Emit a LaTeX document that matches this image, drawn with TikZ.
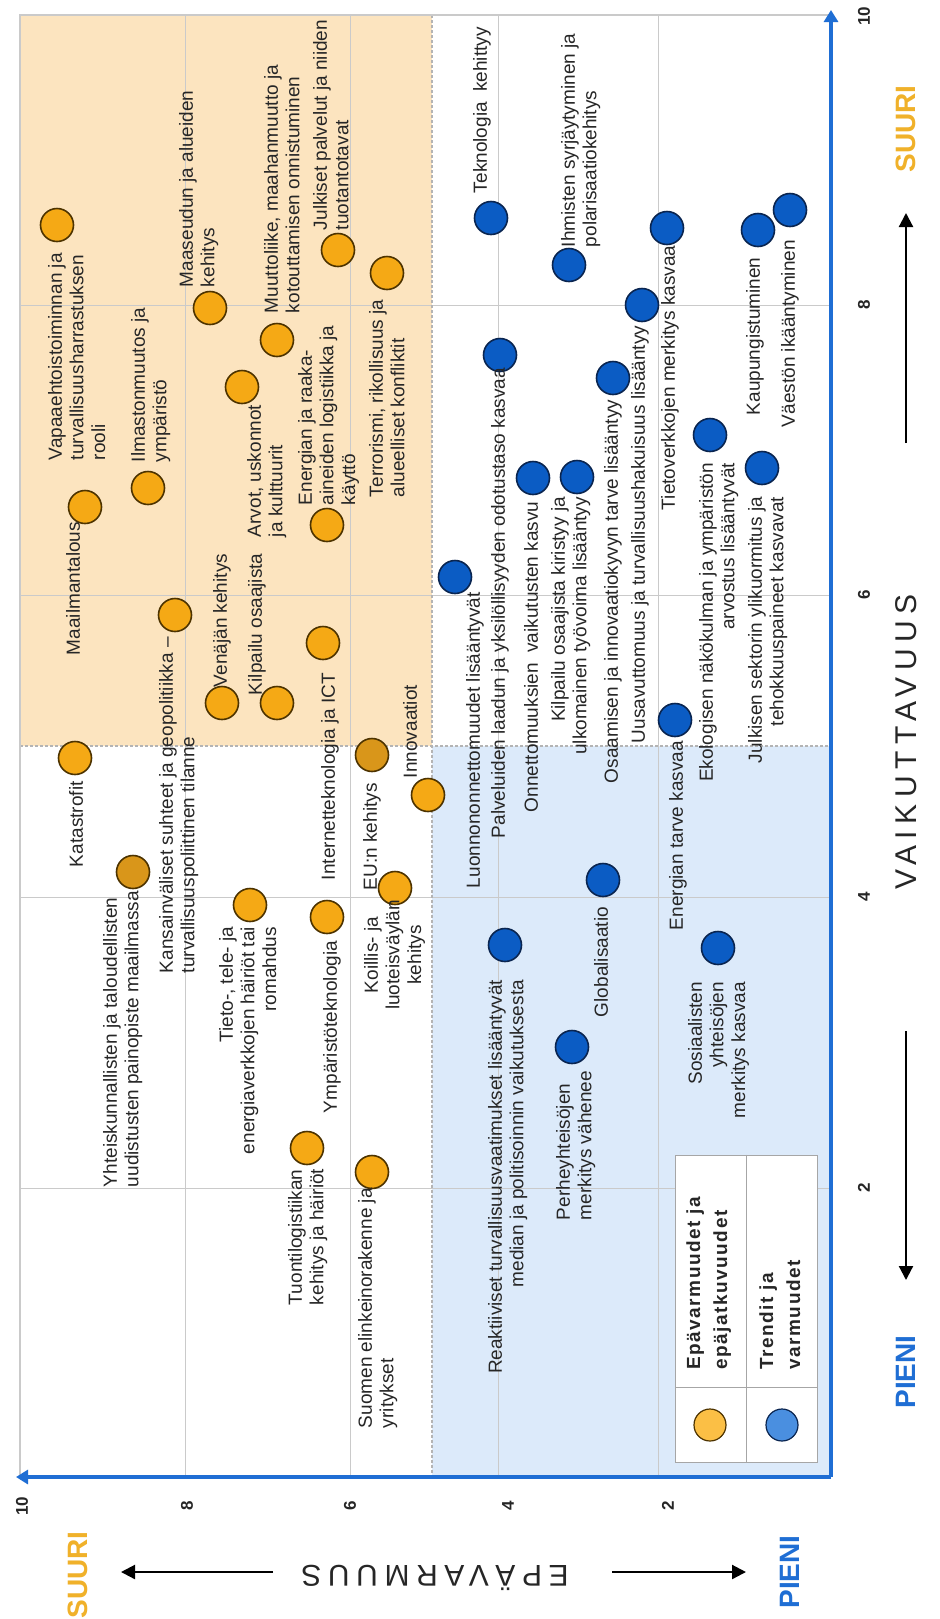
\documentclass[tikz,border=0pt]{standalone}
\usepackage{fontspec}
\setmainfont{Liberation Sans}
\usetikzlibrary{arrows.meta}
\definecolor{orfill}{HTML}{F5A915}
\definecolor{ordark}{HTML}{D9961A}
\definecolor{orline}{HTML}{4D3300}
\definecolor{blfill}{HTML}{0B5CC4}
\definecolor{blline}{HTML}{0A2550}
\definecolor{orzone}{HTML}{FCE4BF}
\definecolor{blzone}{HTML}{DCEAFA}
\definecolor{axblue}{HTML}{1F6ED4}
\definecolor{gridc}{HTML}{CACACA}
\definecolor{dashc}{HTML}{B4B4B4}
\definecolor{suuric}{HTML}{F0B12A}
\definecolor{txt}{HTML}{262626}
\definecolor{legor}{HTML}{FBBF45}
\definecolor{legbl}{HTML}{4A8FE0}
\begin{document}
\begin{tikzpicture}[x=0.5pt,y=-0.5pt,
  oc/.style={circle,draw=orline,fill=orfill,line width=0.8pt,minimum size=16.5pt,inner sep=0pt},
  ocd/.style={oc,fill=ordark},
  bc/.style={circle,draw=blline,fill=blfill,line width=0.8pt,minimum size=16.5pt,inner sep=0pt},
  lbl/.style={rotate=90,inner sep=0pt,outer sep=0pt,text=txt,font=\fontsize{9.5}{10.85}\selectfont},
  lL/.style={lbl,anchor=north west,align=left},
  lR/.style={lbl,anchor=north east,align=right},
  lC/.style={lbl,anchor=north,align=center},
  num/.style={rotate=90,inner sep=0pt,font=\fontsize{8.5}{10}\selectfont\bfseries,text=txt},
  axtitle/.style={inner sep=0pt,text=txt,font=\addfontfeature{LetterSpace=22}\fontsize{15}{18}\selectfont},
  bigword/.style={rotate=90,inner sep=0pt,font=\fontsize{14}{16}\selectfont\bfseries},
  blackarrow/.style={line width=1.1pt,-{Triangle[length=7pt,width=7pt]}},
  axisline/.style={axblue,line width=1.6pt,-{Triangle[length=6pt,width=7pt]}},
  gridline/.style={gridc,line width=0.5pt},
  zoneline/.style={dashc,line width=0.6pt,dash pattern=on 1.5pt off 1pt},
  legtext/.style={rotate=90,inner sep=0pt,anchor=north west,align=left,text=txt,font=\addfontfeature{LetterSpace=8}\fontsize{9.5}{13.5}\selectfont\bfseries}
]
\useasboundingbox (0,0) rectangle (939,1619);
\fill[white] (0,0) rectangle (939,1619);
% zones
\fill[orzone] (20,15) rectangle (432,746);
\fill[blzone] (432,746) rectangle (831,1477);
% grid
\foreach \gx in {185,350,498,658} \draw[gridline] (\gx,15) -- (\gx,1477);
\foreach \gy in {305,595,897,1188} \draw[gridline] (20,\gy) -- (831,\gy);
\draw[zoneline] (432,15) -- (432,1477);
\draw[zoneline] (20,746) -- (831,746);
\draw[gridc,line width=0.6pt] (20,1477) -- (20,15) -- (831,15);
% axes
\coordinate (corner) at (831,1477);
\coordinate (vtip) at (831,10);
\coordinate (htip) at (16,1477);
\draw[axisline] (corner) -- (vtip);
\draw[axisline] (corner) -- (htip);
% axis numbers
\node[num] (n10v) at (864,16) {10};
\node[num] (n8v) at (864,305) {8};
\node[num] (n6v) at (864,595) {6};
\node[num] (n4v) at (864,897) {4};
\node[num] (n2v) at (864,1188) {2};
\node[num] (n10h) at (22,1506) {10};
\node[num] (n8h) at (187,1506) {8};
\node[num] (n6h) at (350,1506) {6};
\node[num] (n4h) at (508,1506) {4};
\node[num] (n2h) at (668,1506) {2};
% axis titles
\node[axtitle,rotate=90] (vait) at (906,742) {VAIKUTTAVUUS};
\node[axtitle,rotate=180] (epat) at (435,1578) {EPÄVARMUUS};
\node[bigword,text=suuric] (suurv) at (906,129) {SUURI};
\node[bigword,text=axblue] (pienv) at (906,1372) {PIENI};
\node[bigword,text=suuric] (suurh) at (78,1575) {SUURI};
\node[bigword,text=axblue] (pienh) at (790,1572) {PIENI};
\coordinate (va1) at (906,443); \coordinate (va2) at (906,213);
\coordinate (vb1) at (906,1031); \coordinate (vb2) at (906,1280);
\coordinate (ha1) at (273,1572); \coordinate (ha2) at (121,1572);
\coordinate (hb1) at (612,1572); \coordinate (hb2) at (746,1572);
\draw[blackarrow] (va1) -- (va2);
\draw[blackarrow] (vb1) -- (vb2);
\draw[blackarrow] (ha1) -- (ha2);
\draw[blackarrow] (hb1) -- (hb2);
% legend
\node[draw=gray!70,fill=white,line width=0.5pt,minimum width=71pt,minimum height=153.5pt,inner sep=0pt] (legbox) at (746,1308.5) {};
\draw[gray!70,line width=0.5pt] (legbox.north) -- (legbox.south);
\draw[gray!70,line width=0.5pt] (675,1387) -- (817,1387);
\node[circle,draw=orline,fill=legor,line width=0.6pt,minimum size=16pt,inner sep=0pt] (lego) at (710,1425) {};
\node[circle,draw=blline,fill=legbl,line width=0.6pt,minimum size=16pt,inner sep=0pt] (legb) at (782,1425) {};
\node[legtext] (legot) at (686,1370) {Epävarmuudet ja\\epäjatkuvuudet};
\node[legtext] (legbt) at (759,1370) {Trendit ja\\varmuudet};
% orange circles
\node[oc] (o1) at (57,225) {};
\node[oc] (o2) at (210,308) {};
\node[oc] (o3) at (277,340) {};
\node[oc] (o4) at (338,250) {};
\node[oc] (o5) at (387,273) {};
\node[oc] (o6) at (242,387) {};
\node[oc] (o7) at (148,488) {};
\node[oc] (o8) at (85,507) {};
\node[oc] (o9) at (175,615) {};
\node[oc] (o10) at (222,703) {};
\node[oc] (o11) at (277,703) {};
\node[oc] (o12) at (323,643) {};
\node[oc] (o13) at (327,525) {};
\node[oc] (o14) at (75,758) {};
\node[ocd] (o15) at (133,872) {};
\node[oc] (o16) at (250,905) {};
\node[oc] (o17) at (327,917) {};
\node[ocd] (o18) at (372,755) {};
\node[oc] (o19) at (428,795) {};
\node[oc] (o20) at (395,888) {};
\node[oc] (o21) at (307,1148) {};
\node[oc] (o22) at (372,1172) {};
% orange labels
\node[lL] (t1) at (48,460) {Vapaaehtoistoiminnan ja\\turvallisuusharrastuksen\\rooli};
\node[lL] (t2) at (179,287) {Maaseudun ja alueiden\\kehitys};
\node[lL] (t3) at (264,313) {Muuttoliike, maahanmuutto ja\\kotouttamisen onnistuminen};
\node[lL] (t4) at (313,230) {Julkiset palvelut ja niiden\\tuotantotavat};
\node[lL] (t5) at (369,497) {Terrorismi, rikollisuus ja\\alueelliset konfliktit};
\node[lL] (t6) at (247,537) {Arvot, uskonnot\\ja kulttuurit};
\node[lL] (t7) at (131,462) {Ilmastonmuutos ja\\ympäristö};
\node[lL] (t8) at (66,655) {Maailmantalous};
\node[lL] (t9) at (159,973) {Kansainväliset suhteet ja geopolitiikka –\\turvallisuuspoliittinen tilanne};
\node[lL] (t10) at (213,687) {Venäjän kehitys};
\node[lL] (t11) at (248,695) {Kilpailu osaajista};
\node[lL] (t12) at (321,880) {Internetteknologia ja ICT};
\node[lL] (t13) at (298,505) {Energian ja raaka-\\aineiden logistiikka ja\\käyttö};
\node[lL] (t14) at (69,867) {Katastrofit};
\node[lL] (t15) at (103,1187) {Yhteiskunnallisten ja taloudellisten\\uudistusten painopiste maailmassa};
\node[lR] (t16) at (219,927) {Tieto-, tele- ja\\energiaverkkojen häiriöt tai\\romahdus};
\node[lL] (t17) at (323,1113) {Ympäristöteknologia};
\node[lL] (t18) at (363,890) {EU:n kehitys};
\node[lL] (t19) at (403,778) {Innovaatiot};
\node[lC] (t20) at (364,955) {Koillis- ja\\luoteisväylän\\kehitys};
\node[lL] (t21) at (288,1305) {Tuontilogistiikan\\kehitys ja häiriöt};
\node[lL] (t22) at (358,1428) {Suomen elinkeinorakenne ja\\yritykset};
% blue circles
\node[bc] (b1) at (491,218) {};
\node[bc] (b2) at (569,265) {};
\node[bc] (b3) at (667,228) {};
\node[bc] (b4) at (642,305) {};
\node[bc] (b5) at (500,355) {};
\node[bc] (b6) at (613,378) {};
\node[bc] (b7) at (758,230) {};
\node[bc] (b8) at (790,210) {};
\node[bc] (b9) at (533,478) {};
\node[bc] (b10) at (577,477) {};
\node[bc] (b11) at (455,577) {};
\node[bc] (b12) at (710,435) {};
\node[bc] (b13) at (762,468) {};
\node[bc] (b14) at (675,720) {};
\node[bc] (b15) at (603,880) {};
\node[bc] (b16) at (505,945) {};
\node[bc] (b17) at (572,1047) {};
\node[bc] (b18) at (718,948) {};
% blue labels
\node[lL] (u1) at (473,193) {Teknologia~ kehittyy};
\node[lL] (u2) at (561,247) {Ihmisten syrjäytyminen ja\\polarisaatiokehitys};
\node[lL] (u3) at (661,510) {Tietoverkkojen merkitys kasvaa};
\node[lL] (u4) at (631,743) {Uusavuttomuus ja turvallisuushakuisuus lisääntyy};
\node[lL] (u5) at (491,838) {Palveluiden laadun ja yksilöllisyyden odotustaso kasvaa};
\node[lL] (u6) at (604,783) {Osaamisen ja innovaatiokyvyn tarve lisääntyy};
\node[lL] (u7) at (746,415) {Kaupungistuminen};
\node[lL] (u8) at (781,427) {Väestön ikääntyminen};
\node[lL] (u9) at (524,812) {Onnettomuuksien~ vaikutusten kasvu};
\node[lR] (u10) at (551,497) {Kilpailu osaajista kiristyy ja\\ulkomainen työvoima lisääntyy};
\node[lL] (u11) at (466,888) {Luonnononnettomuudet lisääntyvät};
\node[lR] (u12) at (699,463) {Ekologisen näkökulman ja ympäristön\\arvostus lisääntyvät};
\node[lR] (u13) at (748,497) {Julkisen sektorin ylikuormitus ja\\tehokkuuspaineet kasvavat};
\node[lL] (u14) at (669,930) {Energian tarve kasvaa};
\node[lL] (u15) at (594,1017) {Globalisaatio};
\node[lR] (u16) at (488,980) {Reaktiiviset turvallisuusvaatimukset lisääntyvät\\median ja politisoinnin vaikutuksesta};
\node[lL] (u17) at (556,1220) {Perheyhteisöjen\\merkitys vähenee};
\node[lR] (u18) at (688,982) {Sosiaalisten\\yhteisöjen\\merkitys kasvaa};
\end{tikzpicture}
\end{document}
